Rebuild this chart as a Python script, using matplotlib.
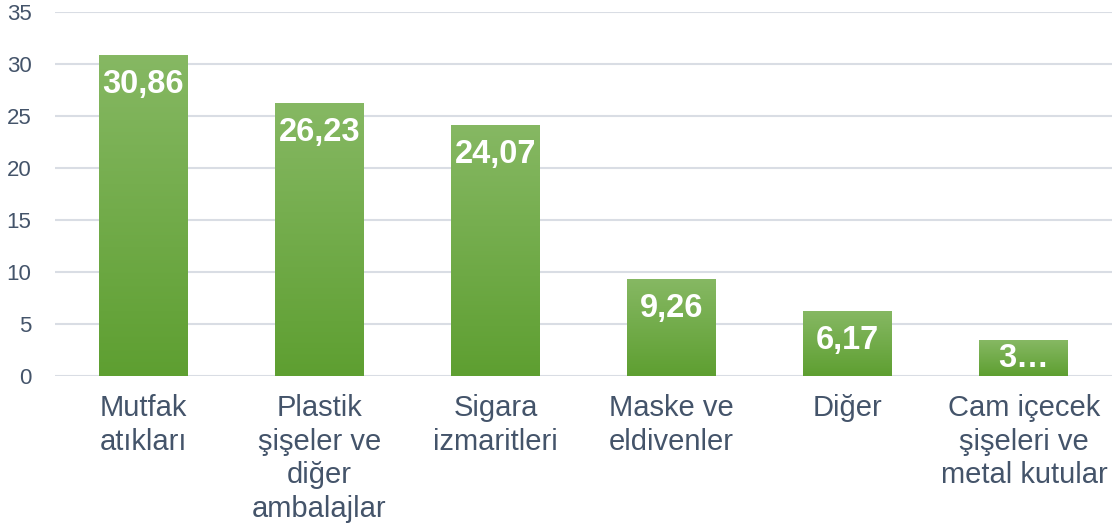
import numpy as np
import matplotlib.pyplot as plt
from matplotlib.colors import LinearSegmentedColormap

categories = ['Mutfak\natıkları', 'Plastik\nşişeler ve\ndiğer\nambalajlar',
              'Sigara\nizmaritleri', 'Maske ve\neldivenler', 'Diğer',
              'Cam içecek\nşişeleri ve\nmetal kutular']
values = [30.86, 26.23, 24.07, 9.26, 6.17, 3.41]
value_labels = ['30,86', '26,23', '24,07', '9,26', '6,17', '3…']
yticks = [0, 5, 10, 15, 20, 25, 30, 35]

text_color = '#44546a'
grid_color = '#d9dde4'
green = LinearSegmentedColormap.from_list('g', ['#5e9f31', '#86b863'])

plt.rcParams['font.family'] = ['Liberation Sans', 'DejaVu Sans']

fig = plt.figure(figsize=(11.17, 5.27), dpi=100)
ax = fig.add_axes([55 / 1117, 1 - 376 / 527, 1057 / 1117, 364 / 527])

x = np.arange(len(values))
width = 0.505
bars = ax.bar(x, values, width=width, color='none', zorder=2)

grad = np.linspace(0, 1, 256).reshape(-1, 1)
for b in bars:
    x0 = b.get_x()
    ax.imshow(grad, extent=[x0, x0 + b.get_width(), 0, b.get_height()],
              origin='lower', cmap=green, aspect='auto', zorder=2)

# label sits inside the bar end, pulled down less on short bars
for xi, v, lab in zip(x, values, value_labels):
    ax.text(xi, v - min(2.8, v / 2), lab, ha='center', va='center',
            color='white', fontsize=23.5, fontweight='bold', zorder=3)

ax.set_xlim(-0.5, len(values) - 0.5)
ax.set_ylim(0, 35)
ax.set_yticks(yticks)
ax.set_xticks(x)
ax.set_xticklabels(categories, fontsize=21, color=text_color, linespacing=1.25)
ax.tick_params(axis='y', labelsize=16, colors=text_color, length=0, pad=17)
ax.tick_params(axis='x', length=0, pad=13)
ax.yaxis.grid(True, color=grid_color, linewidth=1.5, zorder=0)
ax.set_axisbelow(True)
for s in ax.spines.values():
    s.set_visible(False)

fig.savefig('out.png', dpi=100)
